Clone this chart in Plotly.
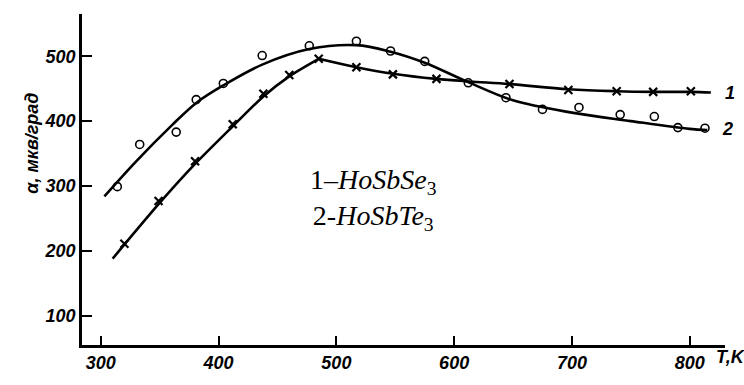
import plotly.graph_objects as go

# Measured points, curve 1 (HoSbSe3, crosses)
T_se = [320, 349, 380, 412, 438, 460, 485, 517, 548, 585, 647, 697, 738, 769, 801]
a_se = [211, 277, 338, 395, 442, 471, 496, 483, 472, 465, 457, 448, 446, 445, 446]

# Measured points, curve 2 (HoSbTe3, circles)
T_te = [314, 333, 364, 381, 404, 437, 477, 517, 546, 575, 612, 644, 675, 706, 741, 770, 790, 813]
a_te = [299, 364, 383, 433, 458, 501, 516, 523, 508, 492, 459, 436, 418, 421, 410, 407, 390, 389]

# Smooth curves drawn through the points
fit1_rise_T = [310, 349, 380, 412, 438, 460, 485]
fit1_rise_a = [188, 272, 334, 392, 438, 469, 496]
fit1_fall_T = [485, 517, 548, 585, 613, 647, 697, 738, 770, 801, 818]
fit1_fall_a = [496, 483, 473, 465, 461, 457, 449, 446, 445, 445, 444]

fit2_T = [303, 330, 360, 381, 404, 437, 477, 517, 546, 575, 612, 650, 700, 750, 800, 815]
fit2_a = [284, 338, 393, 428, 455, 487, 511, 517, 507, 490, 460, 432, 413, 400, 388, 386]

x_ticks = [300, 400, 500, 600, 700, 800]
y_ticks = [100, 200, 300, 400, 500]

fig = go.Figure()
line_style = dict(color="black", width=2.6)
fig.add_trace(go.Scatter(x=fit2_T, y=fit2_a, mode="lines", line=dict(shape="spline", smoothing=1, **line_style), showlegend=False))
fig.add_trace(go.Scatter(x=fit1_rise_T, y=fit1_rise_a, mode="lines", line=dict(shape="spline", smoothing=0.8, **line_style), showlegend=False))
fig.add_trace(go.Scatter(x=fit1_fall_T, y=fit1_fall_a, mode="lines", line=dict(shape="spline", smoothing=1, **line_style), showlegend=False))
fig.add_trace(go.Scatter(x=T_te, y=a_te, mode="markers",
                         marker=dict(symbol="circle-open", size=8, color="black", line=dict(width=1.6)),
                         showlegend=False))
fig.add_trace(go.Scatter(x=T_se, y=a_se, mode="markers",
                         marker=dict(symbol="x-thin", size=8, color="black", line=dict(width=2.2, color="black")),
                         showlegend=False))

tick_font = dict(family="Liberation Sans", size=18, color="black", style="italic", weight="bold")

fig.update_layout(
    width=744, height=385,
    margin=dict(l=82, r=19, t=14, b=32),
    paper_bgcolor="white", plot_bgcolor="white",
    xaxis=dict(range=[284, 830], tickvals=x_ticks, ticktext=[str(v) for v in x_ticks],
               ticks="inside", ticklen=9, tickwidth=2, tickcolor="black",
               showline=True, linecolor="black", linewidth=2.6, showgrid=False, zeroline=False,
               tickfont=tick_font),
    yaxis=dict(range=[55, 565], tickvals=y_ticks, ticktext=[str(v) for v in y_ticks],
               ticks="inside", ticklen=10, tickwidth=2, tickcolor="black",
               showline=True, linecolor="black", linewidth=2.6, showgrid=False, zeroline=False,
               tickfont=tick_font),
)

fig.add_annotation(text="α, мкв/град", xref="paper", yref="paper", x=-0.097, y=0.61,
                   textangle=-90, showarrow=False,
                   font=dict(family="Liberation Sans", size=18, color="black", style="italic", weight="bold"))
fig.add_annotation(text="T,K", xref="paper", yref="paper", x=1.035, y=-0.035, yanchor="middle",
                   showarrow=False,
                   font=dict(family="Liberation Sans", size=18, color="black", style="italic", weight="bold"))
fig.add_annotation(text="1", x=828, y=444, xanchor="left", showarrow=False,
                   font=dict(family="Liberation Sans", size=18, color="black", style="italic", weight="bold"))
fig.add_annotation(text="2", x=826, y=388, xanchor="left", showarrow=False,
                   font=dict(family="Liberation Sans", size=18, color="black", style="italic", weight="bold"))

fig.add_annotation(text="1–<i>HoSbSe</i><sub>3</sub><br>2-<i>HoSbTe</i><sub>3</sub>",
                   xref="paper", yref="paper", x=(373 - 82) / 643, y=(353 - 204) / 339,
                   showarrow=False, align="center",
                   font=dict(family="Liberation Serif", size=28, color="black"))

fig.write_html("out.html")
